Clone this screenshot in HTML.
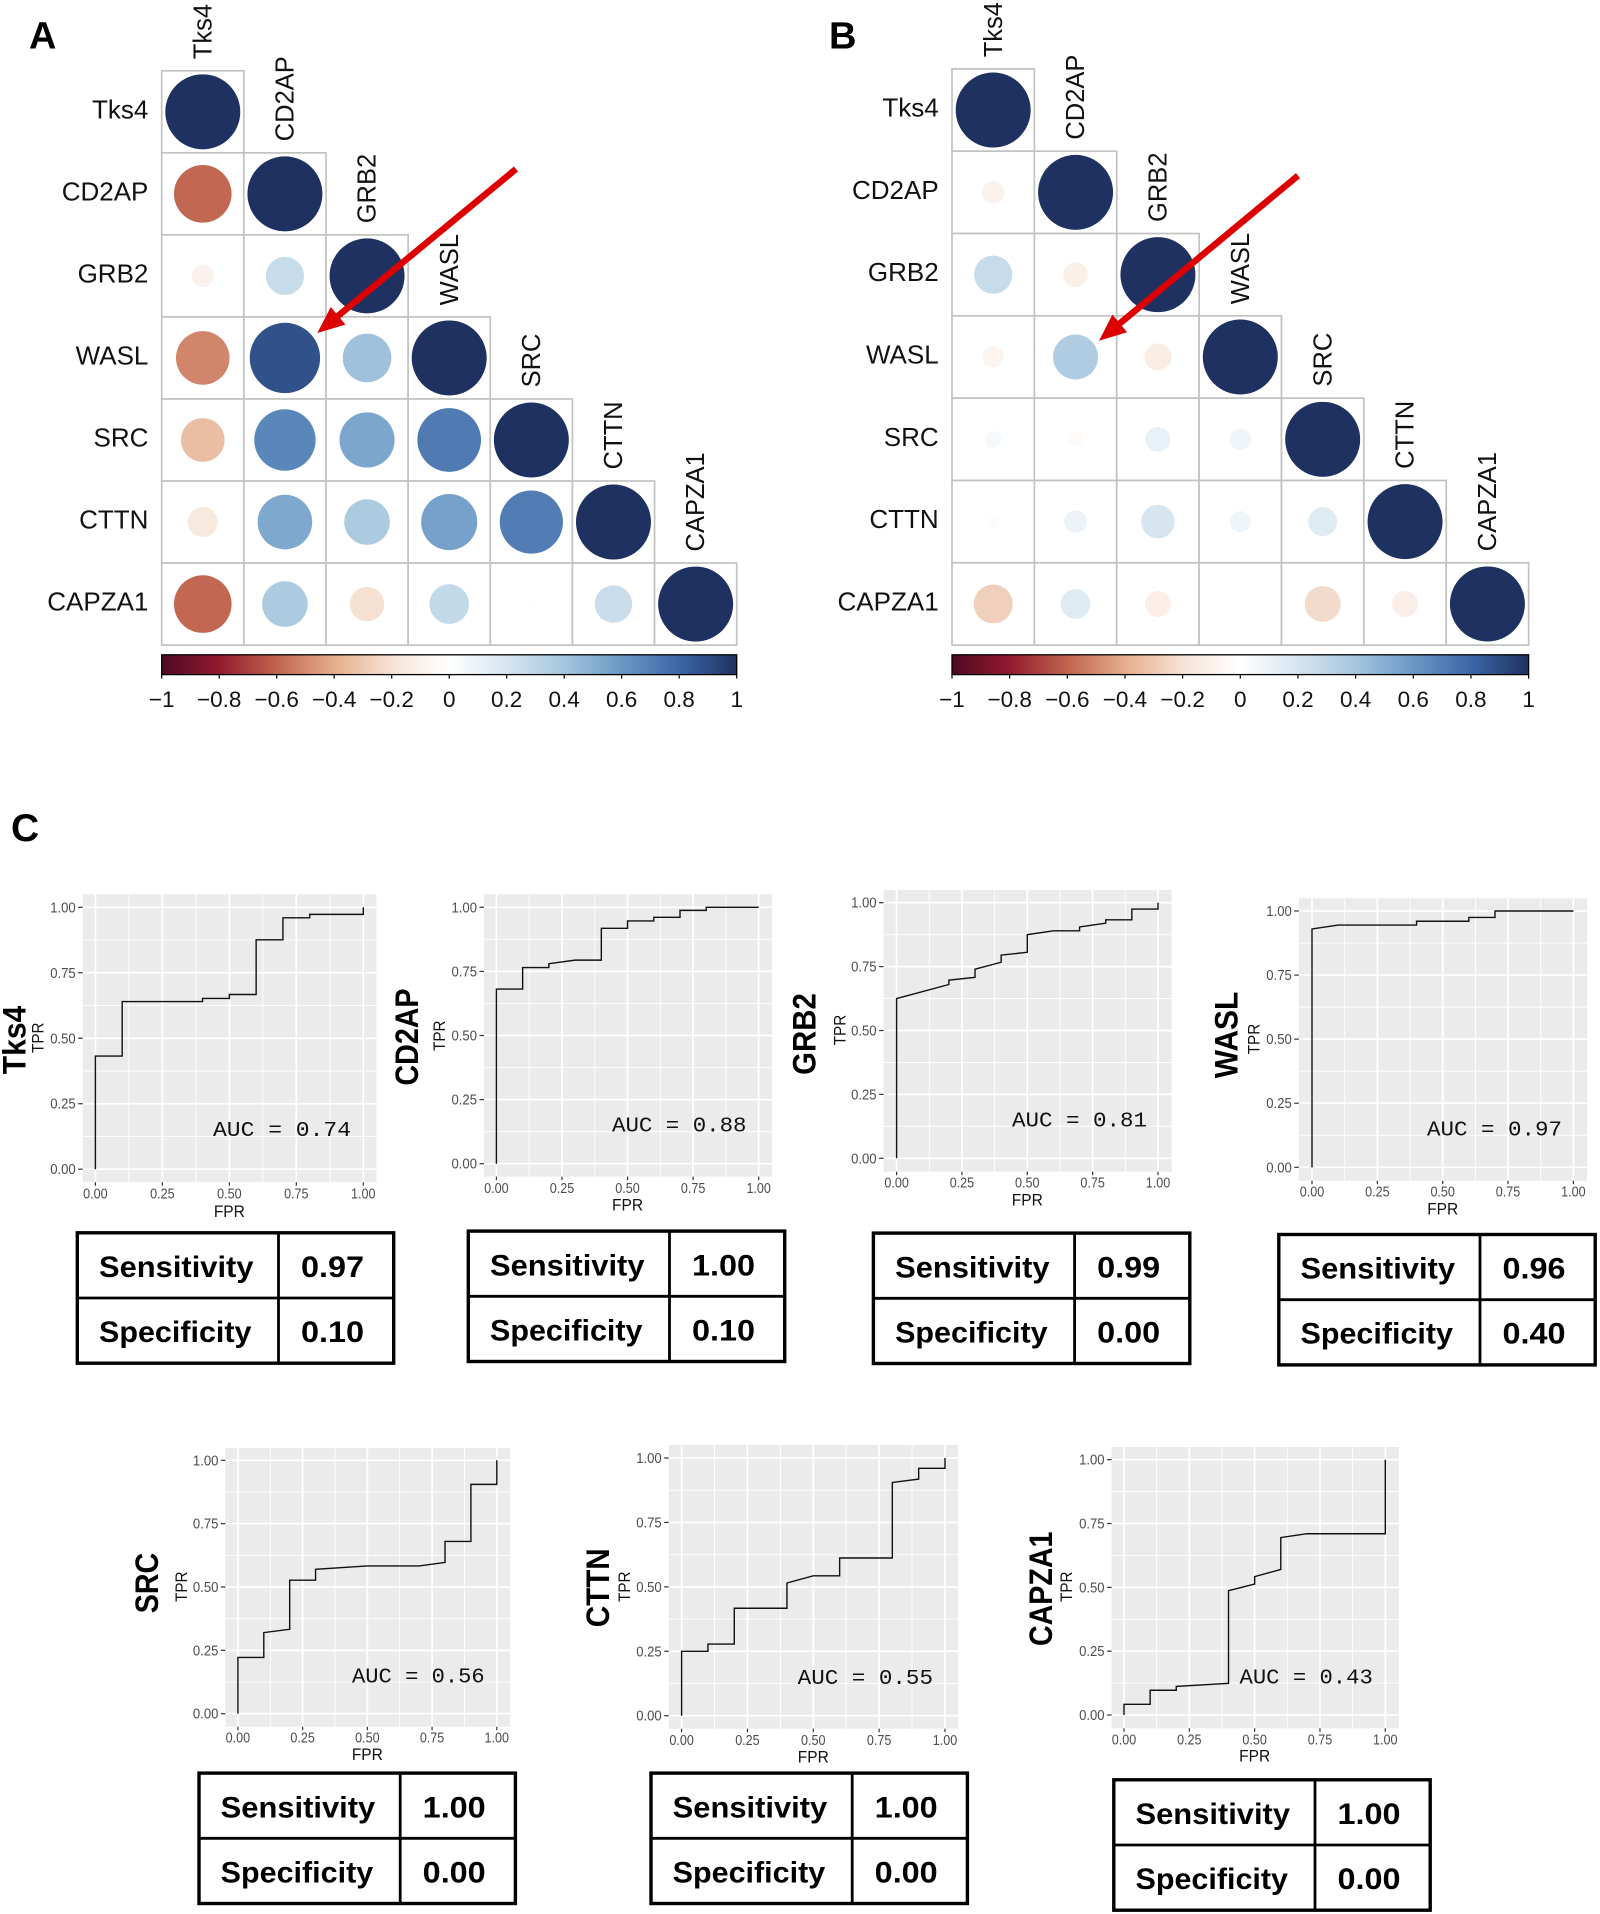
<!DOCTYPE html>
<html lang="en">
<head>
<meta charset="utf-8">
<title>Correlation matrices and ROC curves</title>
<style>
html,body{margin:0;padding:0;background:#fff;}
svg{display:block;font-family:"Liberation Sans",Arial,sans-serif;}
</style>
</head>
<body>
<svg id="figure" xmlns="http://www.w3.org/2000/svg" width="1600" height="1914" viewBox="0 0 1600 1914">
<defs id="defs"></defs>
<rect x="0" y="0" width="1600" height="1914" fill="#ffffff"></rect>
<text x="29" y="48.5" font-size="38" font-weight="bold" fill="#000">A</text>
<text x="829" y="48.5" font-size="38" font-weight="bold" fill="#000">B</text>
<text x="11" y="841" font-size="39" font-weight="bold" fill="#000">C</text>
</svg>
<script>
const genes = ["Tks4","CD2AP","GRB2","WASL","SRC","CTTN","CAPZA1"];
const corrA = [
  [1],
  [-0.59,1],
  [-0.09,0.26,1],
  [-0.51,0.88,0.42,1],
  [-0.34,0.67,0.54,0.72,1],
  [-0.16,0.53,0.37,0.56,0.71,1],
  [-0.59,0.37,-0.21,0.28,0.012,0.25,1]
];
const corrB = [
  [1],
  [-0.09,1],
  [0.26,-0.11,1],
  [-0.08,0.36,-0.13,1],
  [0.05,-0.035,0.11,0.08,1],
  [-0.025,0.09,0.2,0.08,0.15,1],
  [-0.27,0.155,-0.12,0,-0.23,-0.12,1]
];
const colorbarTicks = [-1,-0.8,-0.6,-0.4,-0.2,0,0.2,0.4,0.6,0.8,1];
const paletteValues = [-1,-0.8,-0.6,-0.4,-0.2,0,0.2,0.4,0.6,0.8,1];
const paletteColors = ["#4d0a24","#931a2f","#c0644f","#e5ae8c","#f6e3d6","#ffffff","#d6e5f0","#a5c6de","#6a98c5","#3d66a6","#1f3160"];

const rocTicks = [0,0.25,0.5,0.75,1];
const rocMinorTicks = [0.125,0.375,0.625,0.875];
const rocTks4Fpr = [0,0,0.1,0.1,0.4,0.4,0.5,0.5,0.6,0.6,0.7,0.7,0.8,0.8,1,1];
const rocTks4Tpr = [0,0.432,0.432,0.64,0.64,0.652,0.652,0.667,0.667,0.876,0.876,0.96,0.96,0.973,0.973,1];
const rocCd2apFpr = [0,0,0.1,0.1,0.2,0.2,0.3,0.4,0.4,0.5,0.5,0.6,0.6,0.7,0.7,0.8,0.8,1];
const rocCd2apTpr = [0,0.681,0.681,0.765,0.765,0.78,0.794,0.794,0.918,0.918,0.947,0.947,0.961,0.961,0.988,0.988,1,1];
const rocGrb2Fpr = [0,0,0.2,0.2,0.3,0.3,0.4,0.4,0.5,0.5,0.6,0.7,0.7,0.8,0.8,0.9,0.9,1,1];
const rocGrb2Tpr = [0,0.625,0.68,0.697,0.708,0.74,0.767,0.795,0.806,0.875,0.89,0.89,0.905,0.92,0.933,0.933,0.975,0.975,1];
const rocWaslFpr = [0,0,0.1,0.4,0.4,0.6,0.6,0.7,0.7,1];
const rocWaslTpr = [0,0.93,0.945,0.945,0.96,0.96,0.975,0.975,1,1];
const rocSrcFpr = [0,0,0.1,0.1,0.2,0.2,0.3,0.3,0.5,0.7,0.8,0.8,0.9,0.9,1,1];
const rocSrcTpr = [0,0.222,0.222,0.32,0.333,0.527,0.527,0.57,0.583,0.583,0.597,0.68,0.68,0.905,0.905,1];
const rocCttnFpr = [0,0,0.1,0.1,0.2,0.2,0.4,0.4,0.5,0.6,0.6,0.8,0.8,0.9,0.9,1,1];
const rocCttnTpr = [0,0.25,0.25,0.278,0.278,0.417,0.417,0.515,0.543,0.543,0.612,0.612,0.905,0.918,0.96,0.96,1];
const rocCapza1Fpr = [0,0,0.1,0.1,0.2,0.2,0.4,0.4,0.5,0.5,0.6,0.6,0.7,1,1];
const rocCapza1Tpr = [0,0.042,0.042,0.097,0.097,0.112,0.124,0.487,0.513,0.542,0.57,0.695,0.71,0.71,1];
const aucValues = [0.74,0.88,0.81,0.97,0.56,0.55,0.43];
const sensitivityValues = [0.97,1.00,0.99,0.96,1.00,1.00,1.00];
const specificityValues = [0.10,0.10,0.00,0.40,0.00,0.00,0.00];

const NS = "http://www.w3.org/2000/svg";
const figure = document.getElementById("figure");
const defs = document.getElementById("defs");

function make(tag, attrs, parent, text) {
  const node = document.createElementNS(NS, tag);
  for (const k in attrs) node.setAttribute(k, attrs[k]);
  if (text !== undefined) node.textContent = text;
  (parent || figure).appendChild(node);
  return node;
}
function hexToRgb(h) {
  return [parseInt(h.slice(1,3),16),parseInt(h.slice(3,5),16),parseInt(h.slice(5,7),16)];
}
function colorFor(v) {
  const c = Math.max(-1, Math.min(1, v));
  for (let i = 0; i < paletteValues.length - 1; i++) {
    if (c <= paletteValues[i + 1]) {
      const t = (c - paletteValues[i]) / (paletteValues[i + 1] - paletteValues[i]);
      const a = hexToRgb(paletteColors[i]);
      const b = hexToRgb(paletteColors[i + 1]);
      return "rgb(" + a.map((x, j) => Math.round(x + (b[j] - x) * t)).join(",") + ")";
    }
  }
  return paletteColors[paletteColors.length - 1];
}
function slug(s) { return s.toLowerCase(); }

const gradient = make("linearGradient", {id:"corr-gradient", x1:"0", y1:"0", x2:"1", y2:"0"}, defs);
paletteValues.forEach(function (v, i) {
  make("stop", {offset: ((v + 1) / 2), "stop-color": paletteColors[i]}, gradient);
});

function drawCorrPanel(id, matrix, box, arrow) {
  const g = make("g", {});
  
  
  const cw = (box.right - box.left) / genes.length;
  const ch = (box.bottom - box.top) / genes.length;
  const colX = function (i) { return box.left + i * cw; };
  const rowY = function (i) { return box.top + i * ch; };
  const radius = function (v) { return 37.5 * Math.sqrt(Math.abs(v)); };

  matrix.forEach(function (row, r) {
    row.forEach(function (v, c) {
      const cell = make("rect", {x: colX(c), y: rowY(r), width: cw, height: ch, fill: "#fff", stroke: "#c2c2c2", "stroke-width": 1.7}, g);
      
      
    });
  });
  matrix.forEach(function (row, r) {
    row.forEach(function (v, c) {
      const dot = make("circle", {cx: colX(c) + cw / 2, cy: rowY(r) + ch / 2, r: radius(v), fill: colorFor(v)}, g);
      
      
    });
  });
  genes.forEach(function (name, i) {
    const rowLabel = make("text", {x: box.left - 13.3, y: rowY(i) + ch / 2 + 6.5, "text-anchor": "end", "font-size": 26, fill: "#111"}, g, name);
    
    
    const bx = colX(i) + cw / 2 + 8.6;
    const by = rowY(i) - 11.6;
    const colLabel = make("text", {x: bx, y: by, transform: "rotate(-90 " + bx + " " + by + ")", "font-size": 25.5, fill: "#111"}, g, name);
    
    
  });

  const barTop = 654.8, barBottom = 674.6;
  const barX = function (v) { return box.left + (v + 1) / 2 * (box.right - box.left); };
  const bar = make("rect", {x: box.left, y: barTop, width: box.right - box.left, height: barBottom - barTop, fill: "url(#corr-gradient)", stroke: "#000", "stroke-width": 1.3}, g);
  
  
  colorbarTicks.forEach(function (v) {
    const tick = make("line", {x1: barX(v), x2: barX(v), y1: barBottom, y2: barBottom + 4, stroke: "#000", "stroke-width": 1.2}, g);
    
    
    const txt = (v < 0 ? "\u2212" : "") + String(Math.abs(v));
    const label = make("text", {x: barX(v), y: 707, "text-anchor": "middle", "font-size": 22.5, fill: "#111"}, g, txt);
    
    
  });

  const dx = arrow.x2 - arrow.x1, dy = arrow.y2 - arrow.y1;
  const len = Math.sqrt(dx * dx + dy * dy);
  const ux = dx / len, uy = dy / len;
  const headLen = 27, headHalf = 11.5;
  const bx2 = arrow.x2 - ux * headLen, by2 = arrow.y2 - uy * headLen;
  const shaft = make("line", {x1: arrow.x1, y1: arrow.y1, x2: bx2 + ux * 3, y2: by2 + uy * 3, stroke: "#dc0000", "stroke-width": 6.5}, g);
  
  
  const head = make("polygon", {points: arrow.x2 + "," + arrow.y2 + " " + (bx2 - uy * headHalf) + "," + (by2 + ux * headHalf) + " " + (bx2 + uy * headHalf) + "," + (by2 - ux * headHalf), fill: "#dc0000"}, g);
  
  
}

drawCorrPanel("a", corrA, {left: 161.7, right: 736.7, top: 70.8, bottom: 645.1}, {x1: 516, y1: 169, x2: 317.3, y2: 333});
drawCorrPanel("b", corrB, {left: 952, right: 1528.6, top: 68.9, bottom: 645.1}, {x1: 1298, y1: 175.6, x2: 1099, y2: 340.7});

function drawRoc(name, fpr, tpr, auc, lay) {
  const g = make("g", {});
  
  
  const x = function (v) { return lay.x0 + (lay.x1 - lay.x0) * v; };
  const y = function (v) { return lay.y0 + (lay.y1 - lay.y0) * v; };

  const panel = make("rect", {x: lay.left, y: lay.top, width: lay.right - lay.left, height: lay.bottom - lay.top, fill: "#ebebeb"}, g);
  
  

  rocMinorTicks.forEach(function (v) {
    const gv = make("line", {x1: x(v), x2: x(v), y1: lay.top, y2: lay.bottom, stroke: "#fff", "stroke-width": 0.9}, g);
    
    
    const gh = make("line", {x1: lay.left, x2: lay.right, y1: y(v), y2: y(v), stroke: "#fff", "stroke-width": 0.9}, g);
    
    
  });
  rocTicks.forEach(function (v) {
    const gv = make("line", {x1: x(v), x2: x(v), y1: lay.top, y2: lay.bottom, stroke: "#fff", "stroke-width": 1.7}, g);
    
    
    const gh = make("line", {x1: lay.left, x2: lay.right, y1: y(v), y2: y(v), stroke: "#fff", "stroke-width": 1.7}, g);
    
    

    const tx = make("line", {x1: x(v), x2: x(v), y1: lay.bottom, y2: lay.bottom + 3.5, stroke: "#333", "stroke-width": 1.2}, g);
    
    
    const ty = make("line", {x1: lay.left - 4.5, x2: lay.left, y1: y(v), y2: y(v), stroke: "#333", "stroke-width": 1.2}, g);
    
    

    const xl = make("text", {x: x(v), y: lay.xTickY, "text-anchor": "middle", "font-size": 14.5, fill: "#4d4d4d", textLength: 24.5, lengthAdjust: "spacingAndGlyphs"}, g, v.toFixed(2));
    
    
    const yl = make("text", {x: lay.left - 7, y: y(v) + 5, "text-anchor": "end", "font-size": 14.5, fill: "#4d4d4d", textLength: 25.5, lengthAdjust: "spacingAndGlyphs"}, g, v.toFixed(2));
    
    
  });

  const d = fpr.map(function (f, i) { return (i ? "L" : "M") + x(f).toFixed(2) + " " + y(tpr[i]).toFixed(2); }).join(" ");
  const curve = make("path", {d: d, fill: "none", stroke: "#111", "stroke-width": 1.4}, g);
  
  

  const aucText = make("text", {x: lay.aucX, y: lay.aucY, "font-family": '"Liberation Mono",monospace', "font-size": 21.5, fill: "#111", textLength: lay.aucW, lengthAdjust: "spacingAndGlyphs", "xml:space": "preserve"}, g, "AUC = " + auc.toFixed(2));
  
  

  const fprLabel = make("text", {x: x(0.5), y: lay.fprY, "text-anchor": "middle", "font-size": 16.5, fill: "#111", textLength: 31, lengthAdjust: "spacingAndGlyphs"}, g, "FPR");
  
  
  const tprLabel = make("text", {x: lay.tprX, y: lay.tprY, transform: "rotate(-90 " + lay.tprX + " " + lay.tprY + ")", "text-anchor": "middle", "font-size": 17, fill: "#111", textLength: 30.5, lengthAdjust: "spacingAndGlyphs"}, g, "TPR");
  
  
  const side = make("text", {x: lay.sideX, y: lay.sideY, transform: "rotate(-90 " + lay.sideX + " " + lay.sideY + ")", "text-anchor": "middle", "font-size": 32, "font-weight": "bold", fill: "#000", textLength: lay.sideW, lengthAdjust: "spacingAndGlyphs"}, g, name);
  
  
}

function drawTable(name, sens, spec, x, y) {
  const g = make("g", {});
  
  
  const w = 316.4, h = 130.4;
  const border = make("rect", {x: x + 0.8, y: y + 0.8, width: w, height: h, fill: "#fff", stroke: "#000", "stroke-width": 3.4}, g);
  
  
  const vdiv = make("line", {x1: x + 202, x2: x + 202, y1: y + 0.8, y2: y + 0.8 + h, stroke: "#000", "stroke-width": 2.8}, g);
  
  
  const hdiv = make("line", {x1: x + 0.8, x2: x + 0.8 + w, y1: y + 66, y2: y + 66, stroke: "#000", "stroke-width": 2.8}, g);
  
  
  const common = {"font-size": 30, "font-weight": "bold", fill: "#000", lengthAdjust: "spacingAndGlyphs"};
  const t1 = make("text", Object.assign({x: x + 22.5, y: y + 45, textLength: 154.5}, common), g, "Sensitivity");
  
  
  const t2 = make("text", Object.assign({x: x + 22.5, y: y + 110, textLength: 152.5}, common), g, "Specificity");
  
  
  const t3 = make("text", Object.assign({x: x + 224.5, y: y + 45, textLength: 63}, common), g, sens.toFixed(2));
  
  
  const t4 = make("text", Object.assign({x: x + 224.5, y: y + 110, textLength: 63}, common), g, spec.toFixed(2));
  
  
}

drawRoc("Tks4", rocTks4Fpr, rocTks4Tpr, aucValues[0], {left:82.7,right:376.5,top:894.3,bottom:1182.2,x0:95.4,x1:363.3,y0:1169.2,y1:907.3,xTickY:1198.4,fprY:1217,tprX:43.4,tprY:1037.7,sideX:25.5,sideY:1040,sideW:68.5,aucX:213,aucY:1136,aucW:138});
drawRoc("CD2AP", rocCd2apFpr, rocCd2apTpr, aucValues[1], {left:484,right:772,top:894.3,bottom:1176.6,x0:496.4,x1:758.7,y0:1163.7,y1:907.3,xTickY:1192.9,fprY:1210.7,tprX:445,tprY:1035.7,sideX:418,sideY:1037,sideW:97,aucX:612,aucY:1131.5,aucW:134.5});
drawRoc("GRB2", rocGrb2Fpr, rocGrb2Tpr, aucValues[2], {left:883.6,right:1171.7,top:890,bottom:1171.7,x0:896.6,x1:1158,y0:1158.3,y1:902.7,xTickY:1187.7,fprY:1205.3,tprX:845.4,tprY:1030,sideX:815.6,sideY:1034,sideW:81.7,aucX:1012,aucY:1126.7,aucW:135});
drawRoc("WASL", rocWaslFpr, rocWaslTpr, aucValues[3], {left:1298.8,right:1587,top:898.3,bottom:1180.7,x0:1312,x1:1573.4,y0:1167.3,y1:911,xTickY:1196.7,fprY:1214.3,tprX:1259.6,tprY:1039,sideX:1237.6,sideY:1035,sideW:86.6,aucX:1427,aucY:1135.7,aucW:135});
drawRoc("SRC", rocSrcFpr, rocSrcTpr, aucValues[4], {left:225.4,right:510.2,top:1448,bottom:1726.7,x0:237.9,x1:496.8,y0:1713.7,y1:1460.3,xTickY:1742.3,fprY:1760,tprX:187,tprY:1586.7,sideX:158,sideY:1583,sideW:60.6,aucX:352,aucY:1682.7,aucW:132.7});
drawRoc("CTTN", rocCttnFpr, rocCttnTpr, aucValues[5], {left:668.7,right:958,top:1445,bottom:1728.7,x0:681.6,x1:945,y0:1715.7,y1:1458,xTickY:1745,fprY:1762.7,tprX:630,tprY:1586.7,sideX:609,sideY:1587.8,sideW:79,aucX:797.7,aucY:1684,aucW:135.3});
drawRoc("CAPZA1", rocCapza1Fpr, rocCapza1Tpr, aucValues[6], {left:1111.6,right:1398.7,top:1447,bottom:1728.3,x0:1124,x1:1385.3,y0:1715,y1:1459.7,xTickY:1744.3,fprY:1761.7,tprX:1072,tprY:1586.7,sideX:1052,sideY:1588.8,sideW:114.3,aucX:1239.5,aucY:1683.3,aucW:133.3});

drawTable(genes[0], sensitivityValues[0], specificityValues[0], 76.5, 1232);
drawTable(genes[1], sensitivityValues[1], specificityValues[1], 467.5, 1230.3);
drawTable(genes[2], sensitivityValues[2], specificityValues[2], 872.6, 1232.3);
drawTable(genes[3], sensitivityValues[3], specificityValues[3], 1278, 1233.7);
drawTable(genes[4], sensitivityValues[4], specificityValues[4], 198.2, 1772.3);
drawTable(genes[5], sensitivityValues[5], specificityValues[5], 650.2, 1772.3);
drawTable(genes[6], sensitivityValues[6], specificityValues[6], 1113, 1779);
</script>
</body>
</html>
